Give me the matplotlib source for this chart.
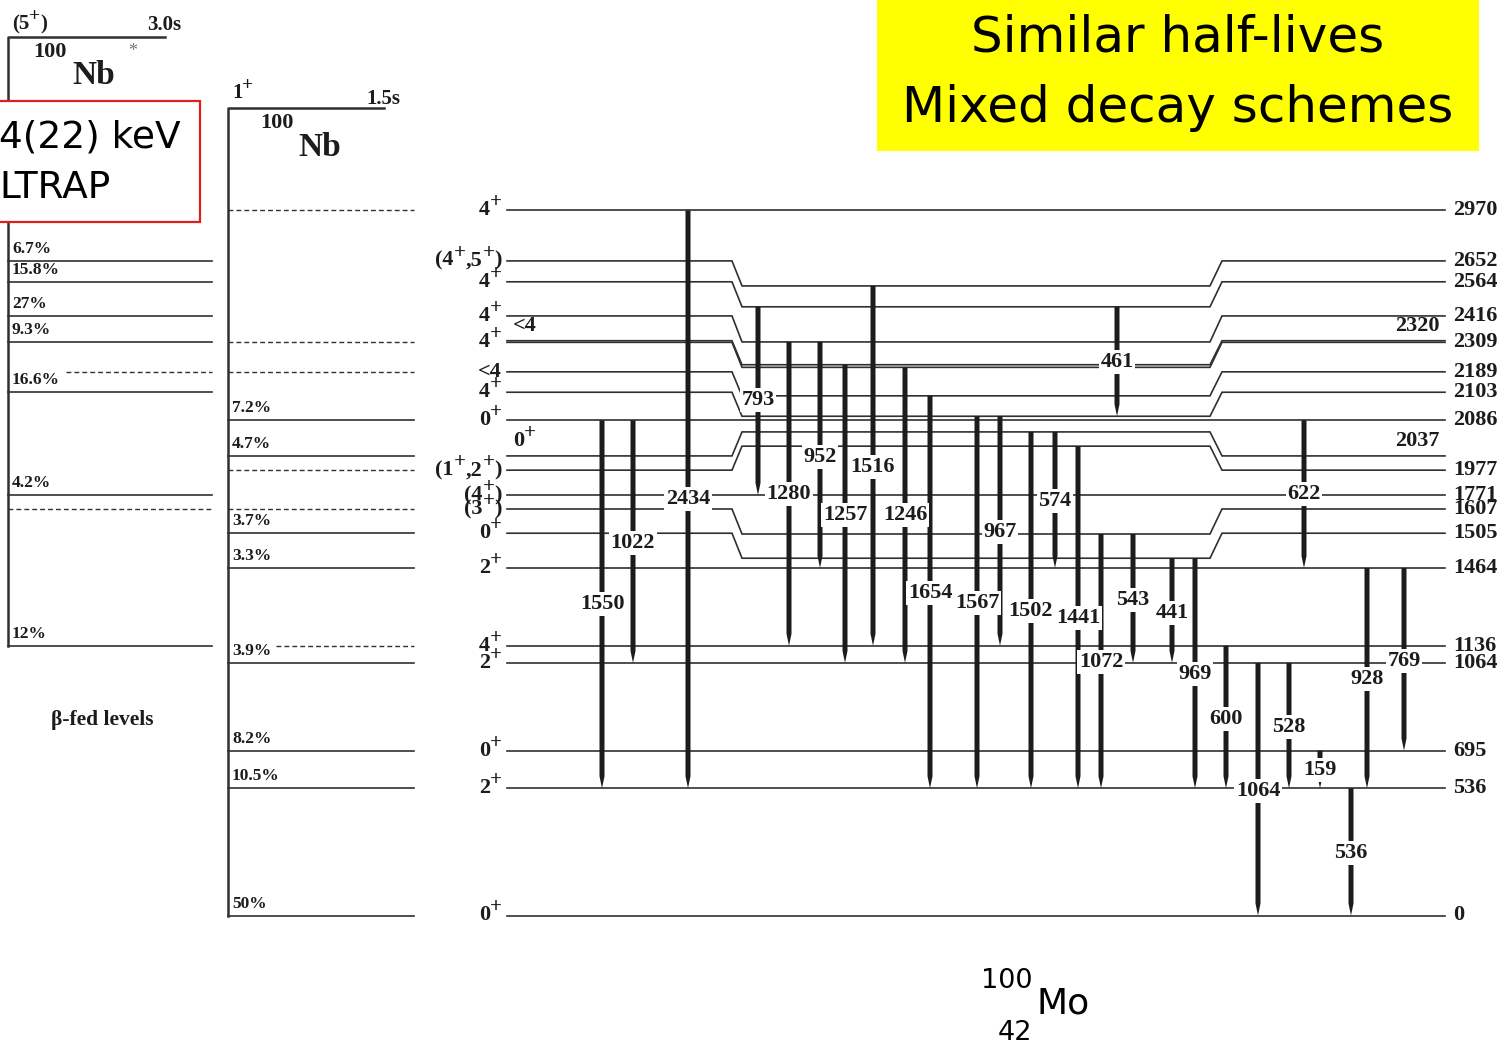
import re

import matplotlib
matplotlib.use("Agg")
import matplotlib.pyplot as plt
from matplotlib.patches import Rectangle

# --- 100Mo level scheme (keV) ---
levels = [2970, 2652, 2564, 2416, 2320, 2309, 2189, 2103, 2086, 2037,
          1977, 1771, 1607, 1505, 1464, 1136, 1064, 695, 536, 0]
spins = ['4+', '(4+,5+)', '4+', '4+', '<4', '4+', '<4', '4+', '0+', '0+',
         '(1+,2+)', '(4+)', '(3+)', '0+', '2+', '4+', '2+', '0+', '2+', '0+']

# gamma rays: energy and initial level
gammas = [1550, 1022, 2434, 793, 1280, 952, 1257, 1516, 1246, 1654, 1567, 967,
          1502, 574, 1441, 1072, 543, 441, 969, 461, 622, 600, 1064, 528,
          159, 928, 536, 769]
gamma_from = [2086, 2086, 2970, 2564, 2416, 2416, 2320, 2652, 2309, 2189, 2103, 2103,
              2037, 2037, 1977, 1607, 1607, 1505, 1505, 2564, 2086, 1136, 1064, 1064,
              695, 1464, 536, 1464]

# beta feeding from the (5+) isomer and the 1+ ground state of 100Nb
feed_hi_levels = [2652, 2564, 2416, 2309, 2189, 2103, 1771, 1607, 1136]
feed_hi_pct = ['6.7%', '15.8%', '27%', '9.3%', None, '16.6%', '4.2%', None, '12%']
feed_hi_dashed = [False, False, False, False, True, False, False, True, False]

feed_lo_levels = [2970, 2309, 2189, 2086, 2037, 1977, 1607, 1505, 1464, 1136, 1064, 695, 536, 0]
feed_lo_pct = [None, None, None, '7.2%', '4.7%', None, None, '3.7%', '3.3%', None,
               '3.9%', '8.2%', '10.5%', '50%']
feed_lo_dashed = [True, True, True, False, False, True, True, False, False, True,
                  False, False, False, False]

# --- layout (pixel based) ---
W, H = 1508, 1052
Y0, K = 915.5, 0.2374          # pixel row of 0 keV, pixels per keV
dpx = 1.0 / K                  # one pixel in keV


def px(row):
    return (Y0 - row) / K


# end segments of crowded levels are moved up (+) or down (-) by this many pixels
level_shift = {2652: 25, 2564: 25, 2416: 26, 2320: 24, 2309: 25, 2189: 24, 2103: 24,
               2037: -24, 1977: -24, 1607: 25, 1505: 25}
inside_labels = {2320, 2037}
gamma_x = [602, 633, 688, 758, 789, 820, 845, 873, 905, 930, 977, 1000,
           1031, 1055, 1078, 1101, 1133, 1172, 1195, 1117, 1304, 1226, 1258, 1289,
           1320, 1367, 1351, 1404]
gamma_label_row = [602, 541, 497, 398, 492, 455, 513, 465, 513, 591, 601, 530,
                   609, 499, 616, 660, 598, 611, 672, 360, 492, 717, 789, 725,
                   768, 677, 851, 659]

INK = '#1c1c1c'
LINE = '#303030'
SERIF = dict(family='Liberation Serif', weight='bold', color=INK)


def end_e(e):
    return e + level_shift.get(e, 0) * dpx


fig = plt.figure(figsize=(W / 100, H / 100), dpi=100)
ax = fig.add_axes([0, 0, 1, 1])
ax.set_xlim(0, W)
ax.set_ylim(px(H), px(0))
ax.axis('off')
renderer = fig.canvas.get_renderer()


def spin_text(x, y, s, ha='right', size=16, sup=15, lift=8, zorder=4):
    """Write a spin label piece by piece so the '+' can be a large superscript."""
    parts = [p for p in re.split(r'(\+)', s) if p]
    if ha == 'right':
        parts = parts[::-1]
    for p in parts:
        if p == '+':
            t = ax.text(x, y + lift * dpx, p, ha=ha, va='baseline', fontsize=sup,
                        zorder=zorder, **SERIF)
        else:
            t = ax.text(x, y, p, ha=ha, va='baseline', fontsize=size,
                        zorder=zorder, **SERIF)
        w = t.get_window_extent(renderer).width
        x = x - w if ha == 'right' else x + w


# levels with kinked end pieces
for e, s in zip(levels, spins):
    ee = end_e(e)
    xs = [507, 732, 742, 1210, 1222, 1445]
    ys = [ee, ee, e, e, ee, ee]
    ax.plot(xs, ys, color=LINE, lw=1.2, zorder=1, solid_joinstyle='miter')
    if e in inside_labels:
        spin_text(513, ee + 10 * dpx, s, ha='left')
        ax.text(1440, ee + 10 * dpx, str(e), ha='right', va='baseline',
                fontsize=16, zorder=4, **SERIF)
    else:
        spin_text(502, ee - 5 * dpx, s, ha='right')
        ax.text(1453, ee - 5 * dpx, str(e), ha='left', va='baseline',
                fontsize=16, zorder=4, **SERIF)

# gamma transitions, each ending on the level nearest to E_i - E_gamma
for g, ei, x, row in zip(gammas, gamma_from, gamma_x, gamma_label_row):
    ef = min(levels, key=lambda lv: abs(lv - (ei - g)))
    t = 12 * dpx
    hw = 2.5
    ax.fill([x - hw, x + hw, x + hw, x, x - hw], [ei, ei, ef + t, ef, ef + t],
            color=INK, lw=0, zorder=2)
    ax.text(x, px(row + 7), str(g), ha='center', va='baseline', fontsize=16,
            zorder=3, bbox=dict(fc='white', ec='none', pad=1.2), **SERIF)


def feeding_column(x0, x1, lv, pct, dashed):
    labeled = [(end_e(e) + 13 * dpx, p) for e, p in zip(lv, pct) if p]
    for e, p, d in zip(lv, pct, dashed):
        y = end_e(e)
        start = x0
        if d:
            for ly, lp in labeled:
                if abs(ly - y) < 10 * dpx:
                    start = x0 + 4 + 9.8 * len(lp) + 5
            ax.plot([start, x1], [y, y], color=LINE, lw=1.0, dashes=(3.5, 2.2), zorder=1)
        else:
            ax.plot([x0, x1], [y, y], color=LINE, lw=1.2, zorder=1)
        if p:
            ax.text(x0 + 4, y + 8 * dpx, p, ha='left', va='baseline', fontsize=12.5,
                    zorder=4, **SERIF)


# (5+) isomer column
ax.plot([8, 8, 165], [px(646), px(37), px(37)], color=LINE, lw=1.8, zorder=1)
feeding_column(8, 212, feed_hi_levels, feed_hi_pct, feed_hi_dashed)
spin_text(12, px(29), '(5+)', ha='left', size=15, sup=14)
ax.text(147, px(30), '3.0s', ha='left', va='baseline', fontsize=15, **SERIF)
ax.text(33, px(57), '100', ha='left', va='baseline', fontsize=16, **SERIF)
ax.text(72, px(84), 'Nb', ha='left', va='baseline', fontsize=24, **SERIF)
ax.text(133, px(56), '*', ha='center', va='baseline', fontsize=13,
        family='Liberation Serif', color='#777777')

# 1+ ground state column
ax.plot([228, 228, 384], [0, px(108), px(108)], color=LINE, lw=1.8, zorder=1)
feeding_column(228, 414, feed_lo_levels, feed_lo_pct, feed_lo_dashed)
spin_text(232, px(98), '1+', ha='left', size=15, sup=14)
ax.text(366, px(104), '1.5s', ha='left', va='baseline', fontsize=15, **SERIF)
ax.text(260, px(128), '100', ha='left', va='baseline', fontsize=16, **SERIF)
ax.text(298, px(156), 'Nb', ha='left', va='baseline', fontsize=24, **SERIF)
ax.text(102, px(725), 'β-fed levels', ha='center', va='baseline', fontsize=15.5, **SERIF)

# mass-measurement note
ax.add_patch(Rectangle((-5, px(222)), 205, 121 * dpx, fc='white', ec='#e0201c',
                       lw=1.6, zorder=5))
ax.text(-1, px(138), '4(22) keV', ha='left', va='center', fontsize=27,
        family='DejaVu Sans', color='black', zorder=6)
ax.text(-1, px(188), 'LTRAP', ha='left', va='center', fontsize=27,
        family='DejaVu Sans', color='black', zorder=6)

# headline box
ax.add_patch(Rectangle((877, px(151)), 602, 151 * dpx, fc='#ffff00', ec='none', zorder=5))
ax.text(1178, px(38), 'Similar half-lives', ha='center', va='center', fontsize=36,
        family='DejaVu Sans', color='black', zorder=6)
ax.text(1178, px(108), 'Mixed decay schemes', ha='center', va='center', fontsize=36,
        family='DejaVu Sans', color='black', zorder=6)

# daughter nucleus
ax.text(1032, px(981), '100', ha='right', va='center', fontsize=19.5,
        family='DejaVu Sans', color='black')
ax.text(1036, px(1003), 'Mo', ha='left', va='center', fontsize=26,
        family='DejaVu Sans', color='black')
ax.text(1032, px(1033), '42', ha='right', va='center', fontsize=19.5,
        family='DejaVu Sans', color='black')

fig.savefig('out.png', dpi=100, facecolor='white')
